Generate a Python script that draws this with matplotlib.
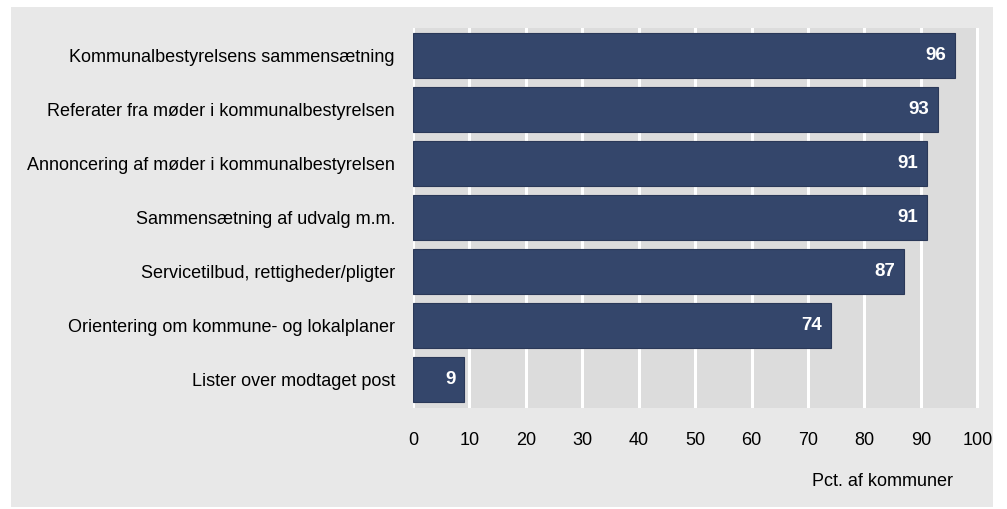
import numpy as np
import matplotlib.pyplot as plt
from matplotlib.patches import Rectangle

categories = [
    'Kommunalbestyrelsens sammensætning',
    'Referater fra møder i kommunalbestyrelsen',
    'Annoncering af møder i kommunalbestyrelsen',
    'Sammensætning af udvalg m.m.',
    'Servicetilbud, rettigheder/pligter',
    'Orientering om kommune- og lokalplaner',
    'Lister over modtaget post',
]
values = [96, 93, 91, 91, 87, 74, 9]
xticks = [0, 10, 20, 30, 40, 50, 60, 70, 80, 90, 100]

plt.rcParams['font.family'] = ['Liberation Sans', 'DejaVu Sans']

W, H = 1007, 509
fig = plt.figure(figsize=(W / 100, H / 100), dpi=100)
fig.patch.set_facecolor('white')

# light grey panel behind everything
panel = Rectangle((11 / W, 2 / H), 982 / W, 500 / H, transform=fig.transFigure,
                  facecolor='#e8e8e8', edgecolor='none', zorder=-5)
fig.patches.append(panel)

ax = fig.add_axes([413 / W, 1 - 408 / H, 566 / W, 380 / H], zorder=2)
ax.set_facecolor('#dcdcdc')

y = np.arange(len(categories))
ax.barh(y, values, height=0.845, color='#34466b', edgecolor='#2a3858', linewidth=0.8, zorder=3)

for yi, v in zip(y, values):
    ax.text(v - 1.5, yi, str(v), ha='right', va='center', color='white',
            fontsize=13.5, fontweight='bold', zorder=4)

ax.set_xlim(0, 100.3)
ax.set_ylim(6.53, -0.51)
ax.set_xticks(xticks)
ax.set_yticks(y)
ax.set_yticklabels(categories, fontsize=13)
ax.tick_params(axis='both', length=0, colors='black', labelsize=13)
ax.tick_params(axis='y', pad=13)
ax.tick_params(axis='x', pad=17)
ax.xaxis.grid(True, color='white', linewidth=2.2, zorder=1)
ax.set_axisbelow(True)
for s in ax.spines.values():
    s.set_visible(False)

fig.text(882 / W, 1 - 482 / H, 'Pct. af kommuner', ha='center', va='center', fontsize=13)

fig.savefig('out.png', dpi=100)
